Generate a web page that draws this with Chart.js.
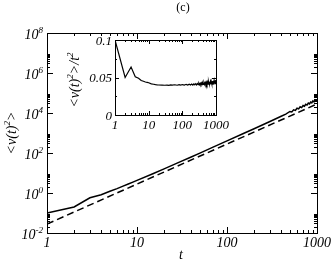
<!DOCTYPE html>
<html>
<head>
<meta charset="utf-8">
<script src="https://cdn.jsdelivr.net/npm/chart.js@4.4.0/dist/chart.umd.min.js"></script>
<style>
html, body { margin: 0; padding: 0; background: #fff; }
#wrap { position: relative; width: 332px; height: 260px; }
#main { position: absolute; left: 0; top: 0; }
#inset { position: absolute; left: 60px; top: 25px; }
</style>
</head>
<body>
<div id="wrap">
  <canvas id="main" width="332" height="260"></canvas>
  <canvas id="inset" width="170" height="110"></canvas>
</div>
<script>
// main panel: <v(t)^2> vs t
const mainT = [1, 2, 3, 4, 5, 6, 7, 8, 9, 10, 15, 20, 30, 40, 50, 70, 100, 150, 200, 300, 400, 450,
    500, 525, 550, 575, 600, 625, 650, 675, 700, 725, 750, 775, 800, 825, 850, 875, 900, 925, 950, 975, 1000];
const mainV = [0.10, 0.20, 0.58, 0.82, 1.22, 1.66, 2.2, 2.8, 3.5, 4.3, 9.2, 16, 36, 63, 99, 196, 405, 911, 1640, 3780, 6880, 8800,
    11900, 11200, 14400, 13500, 17300, 16000, 20400, 18700, 23700, 21700, 27300, 24900, 31200, 28400, 35400, 32000, 39900, 36000, 44600, 40100, 47000];
// dashed reference line
const refT = [1, 1000];
const refV = [0.028, 28000];

// inset: <v(t)^2>/t^2 vs t
const insetT = [1, 2, 3, 4, 5, 6, 7, 8, 9, 10, 12, 14, 16, 18, 20, 25, 30, 35, 40, 45, 50, 60, 70, 80, 90, 100,
    115, 130, 145, 160, 175, 190, 205, 220, 235, 250, 265, 280, 295, 310, 325, 340, 355, 370, 385, 400,
    420, 440, 460, 480, 500, 520, 540, 560, 580, 600, 620, 640, 660, 680, 700, 720, 740, 760, 780, 800,
    820, 840, 860, 880, 900, 920, 940, 960, 980, 1000];
const insetV = [0.100, 0.050, 0.064, 0.051, 0.049, 0.046, 0.045, 0.044, 0.0435, 0.043, 0.0415, 0.041, 0.0405, 0.0402, 0.0400, 0.0398, 0.0397, 0.0399, 0.0396, 0.0401, 0.0398, 0.0403, 0.0397, 0.0404, 0.0399, 0.0406,
    0.0398, 0.0409, 0.0400, 0.0411, 0.0401, 0.0413, 0.0399, 0.0416, 0.0403, 0.0418, 0.0401, 0.0420, 0.0406, 0.0424, 0.0404, 0.0425, 0.0407, 0.0428, 0.0405, 0.0429,
    0.0408, 0.0433, 0.0406, 0.0434, 0.0410, 0.0437, 0.0409, 0.0440, 0.0412, 0.0441, 0.0410, 0.0445, 0.0414, 0.0446, 0.0412, 0.0450, 0.0416, 0.0451, 0.0413, 0.0455,
    0.0418, 0.0456, 0.0415, 0.0460, 0.0420, 0.0461, 0.0417, 0.0464, 0.0421, 0.0466];

const xTicks = [1, 10, 100, 1000];
const xTickLabels = ['1', '10', '100', '1000'];
const yTicks = [1e-2, 1, 1e2, 1e4, 1e6, 1e8];
const yTickExp = ['-2', '0', '2', '4', '6', '8'];
const insetYTicks = [0, 0.05, 0.1];
const insetYLabels = ['0', '0.05', '0.1'];

const SERIF = '"Liberation Serif", "DejaVu Serif", serif';

function setFont(ctx, size, italic) {
    ctx.font = (italic ? 'italic ' : '') + size + 'px ' + SERIF;
}
function richWidth(ctx, parts, size) {
    let w = 0;
    parts.forEach(function(p) {
        setFont(ctx, p.sup ? size * 0.65 : size, true);
        w += ctx.measureText(p.t).width;
    });
    return w;
}
function drawRich(ctx, parts, x, y, size) {
    ctx.textAlign = 'left';
    ctx.textBaseline = 'alphabetic';
    parts.forEach(function(p) {
        setFont(ctx, p.sup ? size * 0.65 : size, true);
        ctx.fillText(p.t, x, p.sup ? y - size * 0.42 : y);
        x += ctx.measureText(p.t).width;
    });
}

// inward ticks on all four sides
function drawTicks(ctx, area, xs, ys, xMajor, xMinor, yMajor, yMinor, majLen, minLen) {
    ctx.beginPath();
    xMajor.forEach(function(v) {
        const px = Math.round(xs.getPixelForValue(v)) + 0.5;
        ctx.moveTo(px, area.bottom); ctx.lineTo(px, area.bottom - majLen);
        ctx.moveTo(px, area.top); ctx.lineTo(px, area.top + majLen);
    });
    xMinor.forEach(function(v) {
        const px = Math.round(xs.getPixelForValue(v)) + 0.5;
        ctx.moveTo(px, area.bottom); ctx.lineTo(px, area.bottom - minLen);
        ctx.moveTo(px, area.top); ctx.lineTo(px, area.top + minLen);
    });
    yMajor.forEach(function(v) {
        const py = Math.round(ys.getPixelForValue(v)) + 0.5;
        ctx.moveTo(area.left, py); ctx.lineTo(area.left + majLen, py);
        ctx.moveTo(area.right, py); ctx.lineTo(area.right - majLen, py);
    });
    yMinor.forEach(function(v) {
        const py = Math.round(ys.getPixelForValue(v)) + 0.5;
        ctx.moveTo(area.left, py); ctx.lineTo(area.left + minLen, py);
        ctx.moveTo(area.right, py); ctx.lineTo(area.right - minLen, py);
    });
    ctx.stroke();
}

let logMinorX = [];
[1, 10, 100].forEach(function(d) { for (let k = 2; k <= 9; k++) logMinorX.push(k * d); });
let logMinorY = [];
[1e-2, 1, 1e2, 1e4, 1e6].forEach(function(d) { for (let k = 2; k <= 9; k++) logMinorY.push(k * d); });

const mainDecor = {
    id: 'mainDecor',
    afterDraw: function(chart) {
        const ctx = chart.ctx;
        const a = chart.chartArea;
        const xs = chart.scales.x, ys = chart.scales.y;
        ctx.save();
        ctx.strokeStyle = '#000';
        ctx.fillStyle = '#000';
        ctx.lineWidth = 1;
        ctx.strokeRect(Math.round(a.left) + 0.5, Math.round(a.top) + 0.5, Math.round(a.right - a.left), Math.round(a.bottom - a.top));
        drawTicks(ctx, a, xs, ys, xTicks, logMinorX, yTicks, logMinorY, 6, 3);

        // x tick labels
        setFont(ctx, 14, true);
        ctx.textAlign = 'center';
        ctx.textBaseline = 'alphabetic';
        xTicks.forEach(function(v, i) {
            ctx.fillText(xTickLabels[i], xs.getPixelForValue(v), 247);
        });
        // y tick labels
        yTicks.forEach(function(v, i) {
            const parts = [{t: '10'}, {t: yTickExp[i], sup: true}];
            const w = richWidth(ctx, parts, 14);
            drawRich(ctx, parts, 43 - w, ys.getPixelForValue(v) + 6, 14);
        });
        // axis titles
        setFont(ctx, 14, true);
        ctx.textAlign = 'center';
        ctx.fillText('t', 181, 259);
        ctx.save();
        ctx.translate(11, 133);
        ctx.rotate(-Math.PI / 2);
        const tparts = [{t: '<v(t)'}, {t: '2', sup: true}, {t: '>'}];
        drawRich(ctx, tparts, -richWidth(ctx, tparts, 14) / 2, 5, 14);
        ctx.restore();
        // panel label
        setFont(ctx, 12, false);
        ctx.textAlign = 'center';
        ctx.textBaseline = 'middle';
        ctx.fillText('(c)', 183, 8);
        ctx.restore();
    }
};

new Chart(document.getElementById('main'), {
    type: 'line',
    data: {
        datasets: [{
            data: mainT.map(function(t, i) { return {x: t, y: mainV[i]}; }),
            borderColor: '#000',
            borderWidth: 1.5,
            pointRadius: 0,
            tension: 0
        }, {
            data: refT.map(function(t, i) { return {x: t, y: refV[i]}; }),
            borderColor: '#000',
            borderWidth: 1.5,
            borderDash: [7, 4],
            pointRadius: 0,
            tension: 0
        }]
    },
    options: {
        responsive: false,
        animation: false,
        layout: {padding: {left: 47, right: 15, top: 33, bottom: 27}},
        scales: {
            x: {type: 'logarithmic', min: 1, max: 1000, display: false},
            y: {type: 'logarithmic', min: 1e-2, max: 1e8, display: false}
        },
        plugins: {legend: {display: false}, tooltip: {enabled: false}}
    },
    plugins: [mainDecor]
});

const insetDecor = {
    id: 'insetDecor',
    beforeDatasetsDraw: function(chart) {
        const a = chart.chartArea;
        chart.ctx.save();
        chart.ctx.fillStyle = '#fff';
        chart.ctx.fillRect(a.left, a.top, a.right - a.left, a.bottom - a.top);
        chart.ctx.restore();
    },
    afterDraw: function(chart) {
        const ctx = chart.ctx;
        const a = chart.chartArea;
        const xs = chart.scales.x, ys = chart.scales.y;
        ctx.save();
        ctx.strokeStyle = '#000';
        ctx.fillStyle = '#000';
        ctx.lineWidth = 1;
        ctx.strokeRect(Math.round(a.left) + 0.5, Math.round(a.top) + 0.5, Math.round(a.right - a.left), Math.round(a.bottom - a.top));
        drawTicks(ctx, a, xs, ys, xTicks, logMinorX, insetYTicks, [0.025, 0.075], 4, 2);
        setFont(ctx, 13, true);
        ctx.textAlign = 'center';
        ctx.textBaseline = 'alphabetic';
        xTicks.forEach(function(v, i) {
            ctx.fillText(xTickLabels[i], xs.getPixelForValue(v), 104);
        });
        ctx.textAlign = 'right';
        insetYTicks.forEach(function(v, i) {
            ctx.fillText(insetYLabels[i], 52, ys.getPixelForValue(v) + 4.5);
        });
        ctx.translate(14, 55);
        ctx.rotate(-Math.PI / 2);
        const tparts = [{t: '<v(t)'}, {t: '2', sup: true}, {t: '>/t'}, {t: '2', sup: true}];
        drawRich(ctx, tparts, -richWidth(ctx, tparts, 14) / 2, 5, 14);
        ctx.restore();
    }
};

new Chart(document.getElementById('inset'), {
    type: 'line',
    data: {
        datasets: [{
            data: insetT.map(function(t, i) { return {x: t, y: insetV[i]}; }),
            borderColor: '#000',
            borderWidth: 1.2,
            pointRadius: 0,
            tension: 0
        }]
    },
    options: {
        responsive: false,
        animation: false,
        layout: {padding: {left: 55, right: 14, top: 15, bottom: 20}},
        scales: {
            x: {type: 'logarithmic', min: 1, max: 1000, display: false},
            y: {type: 'linear', min: 0, max: 0.1, display: false}
        },
        plugins: {legend: {display: false}, tooltip: {enabled: false}}
    },
    plugins: [insetDecor]
});
</script>
</body>
</html>
